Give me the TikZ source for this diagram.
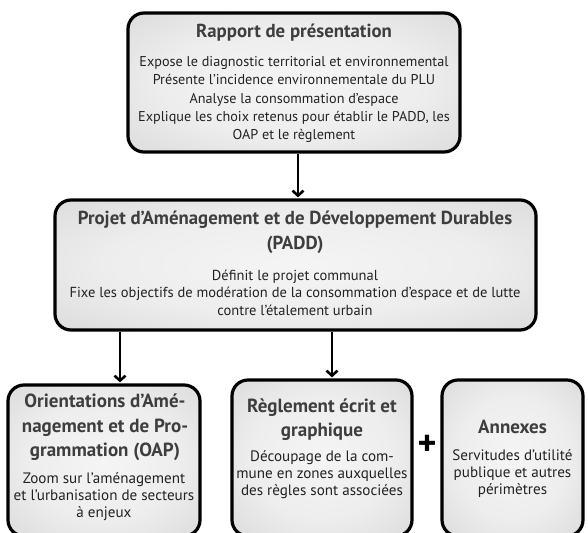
\documentclass[tikz,border=0pt]{standalone}
\usepackage{fontspec}
\setmainfont{PT Sans}
\usetikzlibrary{arrows.meta}
\pgfdeclareradialshading{boxshade}{\pgfpoint{0bp}{0bp}}{color(0bp)=(white!96!black); color(20bp)=(white!93!black); color(50bp)=(white!80!black); color(75bp)=(white!74!black)}
\definecolor{titlecol}{HTML}{3E3E3E}
\definecolor{bodycol}{HTML}{222222}
\tikzset{
  box/.style={draw=black, line width=3.2pt, rounded corners=16pt, shading=boxshade, inner sep=0pt},
  ttl/.style={text=titlecol, align=center, inner sep=0pt, font=\fontsize{18.8}{25}\selectfont\bfseries},
  bdy/.style={text=bodycol, align=center, inner sep=0pt, font=\fontsize{14.2}{18.2}\selectfont},
  pbdy/.style={text=bodycol, align=center, inner sep=0pt, font=\fontsize{14.5}{17.5}\selectfont},
  lttl/.style={text=titlecol, align=center, inner sep=0pt, font=\fontsize{19}{24.3}\selectfont\bfseries},
  lbdy/.style={text=bodycol, align=center, inner sep=0pt, font=\fontsize{15.1}{17}\selectfont},
  arr/.style={line width=2.8pt, -{Straight Barb[length=5pt,width=11pt,line width=2.6pt]}, shorten >=1pt}
}
\begin{document}
\begin{tikzpicture}[x=1pt,y=-1pt]
\useasboundingbox[fill=white] (0,0) rectangle (588,532);
% boxes
\node[box, minimum width=332pt, minimum height=139pt] (top) at (294,82.5) {};
\node[box, minimum width=481pt, minimum height=130pt] (padd) at (295.5,265) {};
\node[box, minimum width=192pt, minimum height=151pt] (oap) at (104,460.5) {};
\node[box, minimum width=180pt, minimum height=156pt] (regl) at (322,458) {};
\node[box, minimum width=141pt, minimum height=156pt] (anx) at (512.5,458) {};
% texts
\node[ttl] (t1) at (294,33) {Rapport de présentation};
\node[bdy] (b1) at (294,99.5) {Expose le diagnostic territorial et environnemental\\Présente l’incidence environnementale du PLU\\Analyse la consommation d’espace\\Explique les choix retenus pour établir le PADD, les\\OAP et le règlement};
\node[ttl] (t2) at (295,232.5) {Projet d’Aménagement et de Développement Durables\\(PADD)};
\node[pbdy] (b2) at (295,292.5) {Définit le projet communal\\Fixe les objectifs de modération de la consommation d’espace et de lutte\\contre l’étalement urbain};
\node[lttl] (t3) at (105,427.5) {Orientations d’Amé-\\nagement et de Pro-\\grammation (OAP)};
\node[lbdy] (b3) at (104,497) {Zoom sur l’aménagement\\et l’urbanisation de secteurs\\à enjeux};
\node[lttl] (t4) at (322,419.5) {Règlement écrit et\\graphique};
\node[lbdy] (b4) at (322,475) {Découpage de la com-\\mune en zones auxquelles\\des règles sont associées};
\node[lttl] (t5) at (512.5,427) {Annexes};
\node[lbdy] (b5) at (512.5,474) {Servitudes d’utilité\\publique et autres\\périmètres};
\node[font=\fontsize{36}{36}\selectfont\bfseries, inner sep=0pt] (plus) at (427,445) {+};
% connectors
\coordinate (x1) at (298,0);
\coordinate (x2) at (120,0);
\coordinate (x3) at (332,0);
\draw[arr] (top.south -| x1) -- (padd.north -| x1);
\draw[arr] (padd.south -| x2) -- (oap.north -| x2);
\draw[arr] (padd.south -| x3) -- (regl.north -| x3);
\end{tikzpicture}
\end{document}
